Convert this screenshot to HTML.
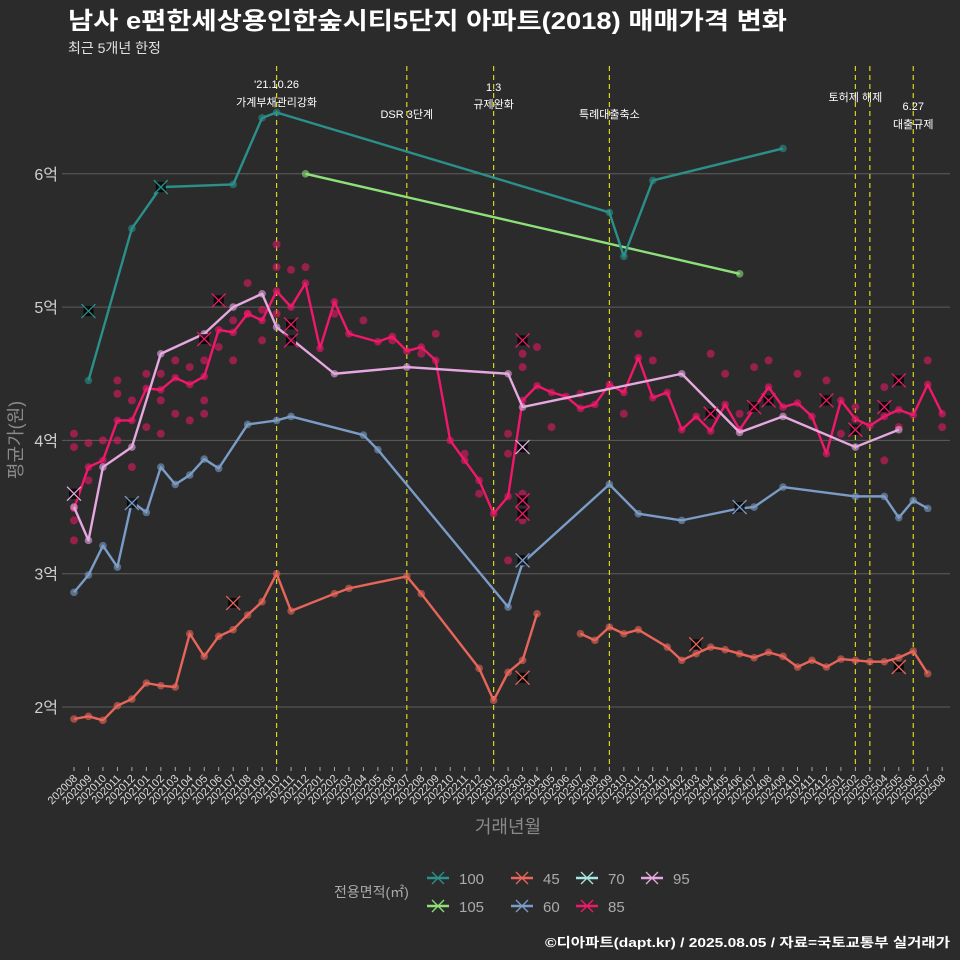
<!DOCTYPE html>
<html><head><meta charset="utf-8">
<style>
html,body{margin:0;padding:0;background:#2b2b2b;}
svg{display:block;font-family:"Liberation Sans","Noto Sans CJK KR",sans-serif;}
</style></head>
<body>
<svg id="chart" width="960" height="960" viewBox="0 0 960 960">
<rect x="0" y="0" width="960" height="960" fill="#2b2b2b"/>
<text x="68" y="29" fill="#ffffff" font-size="24" font-weight="bold" textLength="719" lengthAdjust="spacingAndGlyphs">남사 e편한세상용인한숲시티5단지 아파트(2018) 매매가격 변화</text>
<text x="68" y="53" fill="#e0e0e0" font-size="14">최근 5개년 한정</text>
<g id="grid"></g>
<g id="events"></g>
<g id="marks"></g>
<g id="axes"></g>
<text transform="translate(22,440) rotate(-90)" text-anchor="middle" fill="#8a8a8a" font-size="18">평균가(원)</text>
<text x="508" y="833" text-anchor="middle" fill="#8a8a8a" font-size="18">거래년월</text>
<g id="legend"></g>
<text x="950" y="947" text-anchor="end" fill="#ffffff" font-size="13" font-weight="bold" textLength="405" lengthAdjust="spacingAndGlyphs">©디아파트(dapt.kr) / 2025.08.05 / 자료=국토교통부 실거래가</text>
</svg>
<script>
// ---- data ----
const startYear = 2020, startMonth = 8, monthCount = 61;
const yTicks = [2, 3, 4, 5, 6];
const yTickLabels = ['2억', '3억', '4억', '5억', '6억'];
const eventMonths = [14, 23, 29, 37, 54, 55, 58];
const eventLabels = [["'21.10.26", "가계부채관리강화"], ["DSR 3단계"], ["1.3", "규제완화"], ["특례대출축소"], ["토허제 해제"], [], ["6.27", "대출규제"]];
const seriesNames = ['100', '45', '70', '95', '105', '60', '85'];
const seriesColors = ['#2a9089', '#e8655a', '#a8e6e0', '#e6a8e0', '#8ee07a', '#7a9cc6', '#f0186a'];
const s100 = [[1,4.45],[4,5.59],[6,5.90],[11,5.92],[13,6.42],[14,6.46],[37,5.71],[38,5.38],[40,5.95],[49,6.19]];
const s105 = [[16,6.0],[46,5.25]];
const s95 = [[0,3.5],[1,3.25],[2,3.8],[4,3.95],[6,4.65],[9,4.8],[11,5.0],[13,5.1],[14,4.85],[18,4.5],[23,4.55],[30,4.5],[31,4.25],[42,4.5],[46,4.06],[49,4.18],[54,3.95],[57,4.08]];
const s60 = [[0,2.86],[1,2.99],[2,3.21],[3,3.05],[4,3.54],[5,3.46],[6,3.8],[7,3.67],[8,3.74],[9,3.86],[10,3.79],[12,4.12],[14,4.15],[15,4.18],[20,4.04],[21,3.93],[30,2.75],[31,3.08],[37,3.67],[39,3.45],[42,3.4],[46,3.49],[47,3.5],[49,3.65],[54,3.58],[56,3.58],[57,3.42],[58,3.55],[59,3.49]];
const s45a = [[0,1.91],[1,1.93],[2,1.9],[3,2.01],[4,2.06],[5,2.18],[6,2.16],[7,2.15],[8,2.55],[9,2.38],[10,2.53],[11,2.58],[12,2.69],[13,2.79],[14,3.0],[15,2.72],[18,2.85],[19,2.89],[23,2.98],[24,2.85],[28,2.29],[29,2.05],[30,2.26],[31,2.35],[32,2.7]];
const s45b = [[35,2.55],[36,2.5],[37,2.6],[38,2.55],[39,2.58],[41,2.45],[42,2.35],[43,2.4],[44,2.45],[45,2.43],[46,2.4],[47,2.37],[48,2.41],[49,2.38],[50,2.3],[51,2.35],[52,2.3],[53,2.36],[54,2.35],[55,2.34],[56,2.34],[57,2.37],[58,2.42],[59,2.25]];
const s85 = [[0,3.49],[1,3.8],[2,3.85],[3,4.15],[4,4.15],[5,4.39],[6,4.38],[7,4.47],[8,4.42],[9,4.48],[10,4.83],[11,4.81],[12,4.95],[13,4.9],[14,5.12],[15,5.0],[16,5.18],[17,4.69],[18,5.04],[19,4.8],[21,4.74],[22,4.78],[23,4.67],[24,4.7],[25,4.6],[26,4.0],[27,3.85],[28,3.7],[29,3.45],[30,3.58],[31,4.3],[32,4.41],[33,4.36],[34,4.33],[35,4.24],[36,4.27],[37,4.42],[38,4.36],[39,4.62],[40,4.32],[41,4.36],[42,4.08],[43,4.18],[44,4.07],[45,4.27],[46,4.08],[47,4.24],[48,4.4],[49,4.25],[50,4.28],[51,4.18],[52,3.9],[53,4.3],[54,4.16],[55,4.11],[56,4.18],[57,4.23],[58,4.19],[59,4.42],[60,4.2]];
const dots85 = [[0,4.05],[0,3.95],[0,3.4],[0,3.25],[1,3.98],[1,3.7],[2,4.0],[3,4.35],[3,4.0],[3,4.45],[4,4.3],[4,3.8],[5,4.5],[5,4.1],[6,4.5],[6,4.3],[6,4.05],[7,4.6],[7,4.2],[8,4.55],[8,4.15],[9,4.6],[9,4.3],[9,4.2],[10,4.7],[11,4.9],[11,4.6],[12,5.18],[12,4.95],[13,4.98],[13,4.75],[14,5.47],[14,5.3],[14,4.95],[15,5.28],[16,5.3],[18,4.95],[20,4.9],[22,4.75],[24,4.65],[25,4.8],[27,3.9],[28,3.6],[30,3.1],[30,3.9],[30,4.05],[31,4.65],[31,4.55],[31,3.6],[31,3.4],[32,4.7],[33,4.1],[35,4.35],[38,4.2],[39,4.8],[40,4.6],[44,4.65],[45,4.5],[46,4.2],[47,4.55],[48,4.6],[50,4.5],[52,4.45],[53,4.05],[54,4.25],[56,4.4],[56,3.85],[57,4.1],[59,4.6],[60,4.1]];
const crosses = [[0,'95',3.6],[1,'100',4.97],[4,'60',3.53],[6,'100',5.9],[9,'85',4.76],[10,'85',5.05],[11,'45',2.78],[15,'85',4.87],[15,'85',4.75],[31,'60',3.1],[31,'85',4.75],[31,'85',3.55],[31,'85',3.45],[31,'95',3.95],[31,'45',2.22],[43,'45',2.47],[44,'85',4.2],[46,'60',3.5],[47,'85',4.25],[48,'85',4.3],[52,'85',4.3],[54,'85',4.08],[56,'85',4.25],[57,'85',4.45],[57,'45',2.3]];
// ---- scales ----
const X0 = 74, DX = 14.47, Y2 = 707, DY = 133.3;
const xs = i => X0 + DX * i;
const ys = v => Y2 - (v - 2) * DY;
const NS = 'http://www.w3.org/2000/svg';
function mk(tag, attrs, parent) { const e = document.createElementNS(NS, tag); for (const k in attrs) e.setAttribute(k, attrs[k]); parent.appendChild(e); return e; }
const grid = document.getElementById('grid'), axes = document.getElementById('axes'), marks = document.getElementById('marks'), events = document.getElementById('events');
yTicks.forEach((t, k) => {
  const l = mk('line', {x1: 62, x2: 950, y1: ys(t), y2: ys(t), stroke: '#5e5e5e', 'stroke-width': 1}, grid);
  
  
  const tx = mk('text', {x: 58, y: ys(t) + 6, 'text-anchor': 'end', fill: '#cfcfcf', 'font-size': 16}, axes);
  tx.textContent = yTickLabels[k];
  
  
});
for (let i = 0; i < monthCount; i++) {
  const m = startMonth - 1 + i, yr = startYear + Math.floor(m / 12), mo = m % 12 + 1;
  const lab = '' + yr + (mo < 10 ? '0' : '') + mo;
  const tk = mk('line', {x1: xs(i), x2: xs(i), y1: 767, y2: 771, stroke: '#aaaaaa'}, axes);
  
  
  const tx = mk('text', {x: xs(i) + 4, y: 779, 'text-anchor': 'end', fill: '#dddddd', 'font-size': 11, transform: 'rotate(-45 ' + (xs(i) + 4) + ' 779)'}, axes);
  tx.textContent = lab;
  
  
}
const evY = [[88, 106], [118], [91, 108], [118], [101], [], [110, 128]];
eventMonths.forEach((m, k) => {
  const l = mk('line', {x1: xs(m), x2: xs(m), y1: 66, y2: 767, stroke: '#d6d61e', 'stroke-width': 1.2, 'stroke-dasharray': '5,4'}, events);
  
  
  eventLabels[k].forEach((s, j) => {
    const t = mk('text', {x: xs(m), y: evY[k][j], 'text-anchor': 'middle', fill: '#ffffff', 'font-size': 11}, events);
    t.textContent = s;
    
    
  });
});
function dots(arr, color, name, r, op) {
  arr.forEach(p => {
    const c = mk('circle', {cx: xs(p[0]), cy: ys(p[1]), r: r, fill: color, 'fill-opacity': op}, marks);
    
    
  });
}
function line(arr, color, name) {
  const p = mk('polyline', {points: arr.map(q => xs(q[0]) + ',' + ys(q[1])).join(' '), fill: 'none', stroke: color, 'stroke-width': 2.4, 'stroke-linejoin': 'round'}, marks);
  
  
}
dots(dots85, '#f0186a', 'dot-85', 4, 0.55);
const lineSets = [[s60, 5], [s45a, 1], [s45b, 1], [s85, 6], [s95, 3], [s105, 4], [s100, 0]];
lineSets.forEach(ls => {
  const col = seriesColors[ls[1]], nm = seriesNames[ls[1]];
  dots(ls[0], col, 'point-' + nm, 3.8, 0.6);
  line(ls[0], col, 'line-' + nm);
});
crosses.forEach(c => {
  const col = seriesColors[seriesNames.indexOf(c[1])], x = xs(c[0]), y = ys(c[2]);
  const r = mk('rect', {x: x - 5, y: y - 5, width: 10, height: 10, fill: '#000', 'fill-opacity': 0.8}, marks);
  
  
  const p = mk('path', {d: 'M' + (x - 7) + ' ' + (y - 7) + 'L' + (x + 7) + ' ' + (y + 7) + 'M' + (x + 7) + ' ' + (y - 7) + 'L' + (x - 7) + ' ' + (y + 7), stroke: col, 'stroke-width': 1.3}, marks);
  
  
});
// legend
const lg = document.getElementById('legend');
const lt = mk('text', {x: 334, y: 897, fill: '#aaaaaa', 'font-size': 14}, lg);
lt.textContent = '전용면적(㎡)';


const legPos = [[427, 878], [511, 878], [576, 878], [641, 878], [427, 906], [511, 906], [576, 906]];
seriesNames.forEach((n, k) => {
  const g = mk('g', {}, lg);
  
  
  const x = legPos[k][0], y = legPos[k][1], col = seriesColors[k];
  mk('line', {x1: x, x2: x + 22, y1: y, y2: y, stroke: col, 'stroke-width': 2.4}, g);
  mk('path', {d: 'M' + (x + 5) + ' ' + (y - 6) + 'L' + (x + 17) + ' ' + (y + 6) + 'M' + (x + 17) + ' ' + (y - 6) + 'L' + (x + 5) + ' ' + (y + 6), stroke: col, 'stroke-width': 1.3}, g);
  const t = mk('text', {x: x + 32, y: y + 6, fill: '#aaaaaa', 'font-size': 15}, g);
  t.textContent = n;
});
</script>
</body></html>
